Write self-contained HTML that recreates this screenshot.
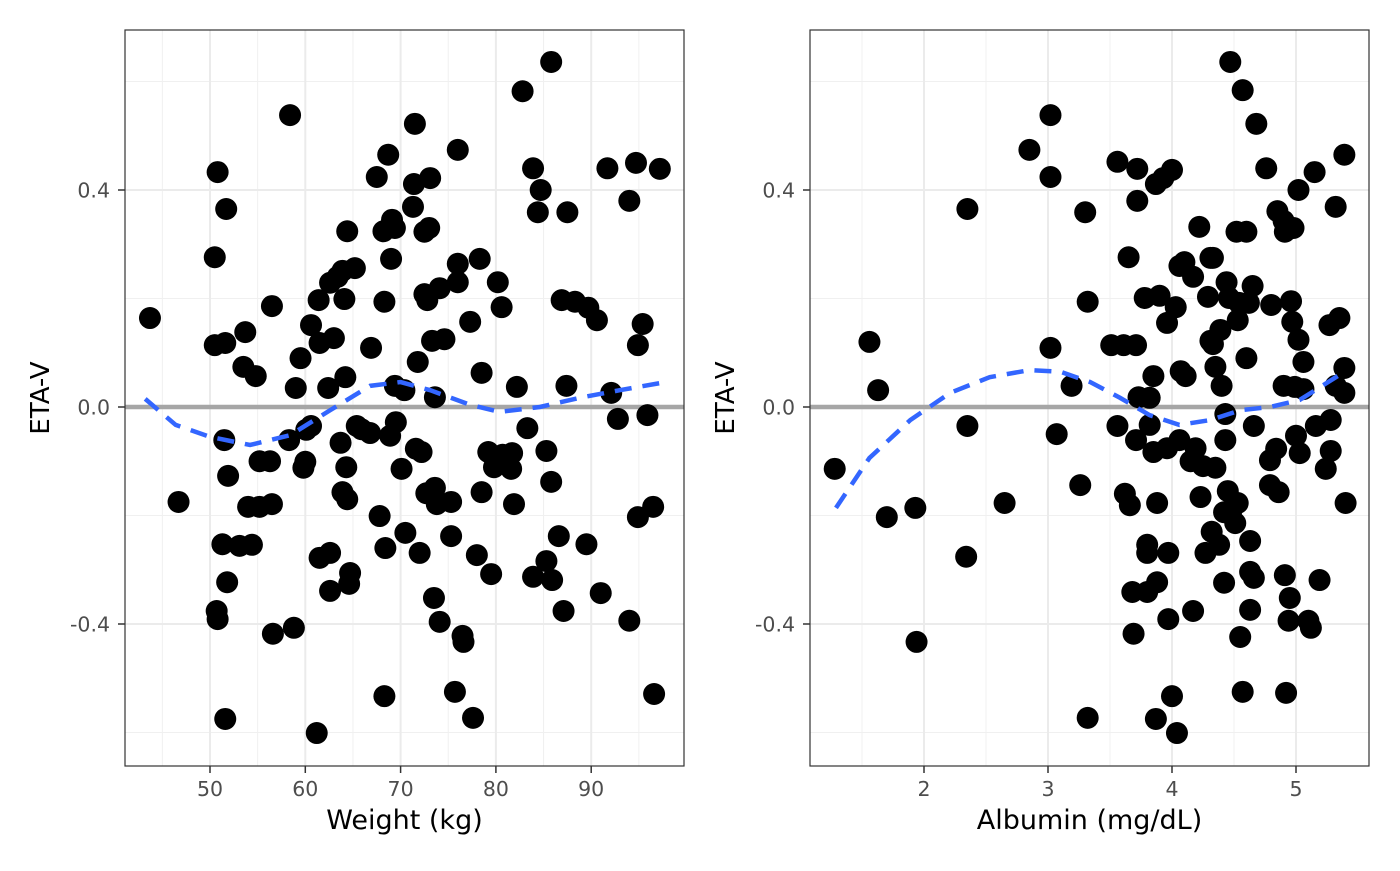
<!DOCTYPE html>
<html><head><meta charset="utf-8"><style>
body{margin:0;background:#fff}
svg text{font-family:"DejaVu Sans","Liberation Sans",sans-serif}
</style></head><body>
<svg id="c" width="1400" height="866" xmlns="http://www.w3.org/2000/svg"></svg>
<script>
const wtX=[43.7,46.7,50.8,50.5,51.7,50.5,51.6,51.5,51.9,51.3,51.8,50.7,50.8,51.6,53.7,53.5,53.1,54.0,54.4,54.8,55.2,55.2,56.5,56.3,56.5,56.6,58.4,59.0,58.3,58.8,59.5,60.0,59.8,60.6,60.6,60.1,61.4,61.5,61.5,61.2,62.6,62.6,62.6,62.4,63.0,63.4,63.9,64.1,64.2,63.7,63.9,64.4,64.4,64.3,64.7,64.6,65.2,65.4,65.9,66.8,66.9,67.5,67.8,68.2,68.3,68.4,68.3,68.7,68.9,69.0,69.1,69.4,69.4,69.5,70.1,70.4,70.5,71.5,71.4,71.3,71.8,71.6,72.0,72.2,72.5,72.5,72.8,73.0,73.1,72.7,73.3,73.6,73.6,73.8,73.5,74.1,74.1,74.6,75.3,75.3,75.7,76.0,76.0,76.0,76.5,76.6,77.3,77.6,78.0,78.3,78.5,78.5,79.2,79.5,79.8,80.2,80.6,80.7,81.7,81.6,81.9,82.2,82.8,83.3,83.9,83.9,84.4,84.7,85.3,85.3,85.8,85.8,85.9,86.6,86.9,87.1,87.4,87.5,88.3,89.5,89.7,90.6,91.0,91.7,92.1,92.8,94.0,94.0,94.7,94.9,94.9,95.4,95.9,96.5,96.6,97.2];
const wtEta=[0.164,-0.175,0.433,0.276,0.365,0.114,0.118,-0.061,-0.127,-0.253,-0.323,-0.376,-0.391,-0.575,0.138,0.074,-0.256,-0.184,-0.254,0.057,-0.100,-0.184,0.186,-0.100,-0.179,-0.418,0.538,0.035,-0.061,-0.407,0.090,-0.101,-0.112,0.151,-0.035,-0.042,0.197,0.118,-0.278,-0.601,0.229,-0.269,-0.339,0.035,0.127,0.240,0.251,0.199,0.055,-0.066,-0.157,-0.170,0.324,-0.111,-0.306,-0.326,0.256,-0.035,-0.041,-0.048,0.109,0.424,-0.201,0.324,0.194,-0.260,-0.533,0.465,-0.053,0.273,0.345,0.330,0.039,-0.028,-0.114,0.031,-0.232,0.522,0.411,0.369,0.083,-0.077,-0.269,-0.083,0.208,0.323,0.197,0.330,0.422,-0.159,0.122,-0.149,0.018,-0.179,-0.352,-0.396,0.219,0.125,-0.175,-0.238,-0.525,0.474,0.264,0.230,-0.422,-0.433,0.157,-0.573,-0.273,0.273,0.063,-0.157,-0.083,-0.308,-0.111,0.230,0.184,-0.088,-0.085,-0.114,-0.179,0.037,0.582,-0.039,0.440,-0.313,0.359,0.400,-0.081,-0.284,0.636,-0.138,-0.319,-0.238,0.197,-0.376,0.039,0.359,0.194,-0.253,0.183,0.160,-0.343,0.440,0.026,-0.022,0.380,-0.394,0.450,0.114,-0.203,0.153,-0.015,-0.184,-0.529,0.439];
const albX=[1.28,1.56,1.63,1.70,1.93,1.94,2.35,2.34,2.35,2.65,2.85,3.02,3.02,3.02,3.07,3.19,3.26,3.30,3.32,3.32,3.51,3.56,3.56,3.61,3.62,3.65,3.66,3.68,3.69,3.71,3.72,3.72,3.71,3.73,3.78,3.80,3.80,3.80,3.82,3.82,3.85,3.85,3.87,3.88,3.88,3.87,3.90,3.93,3.96,3.97,3.97,3.96,4.00,4.00,4.03,4.04,4.06,4.06,4.07,4.10,4.11,4.15,4.17,4.17,4.19,4.22,4.23,4.25,4.27,4.29,4.31,4.31,4.32,4.33,4.33,4.35,4.35,4.38,4.39,4.40,4.42,4.42,4.43,4.43,4.44,4.46,4.45,4.47,4.48,4.51,4.52,4.53,4.54,4.55,4.53,4.57,4.60,4.60,4.62,4.63,4.63,4.63,4.65,4.66,4.66,4.68,4.57,4.76,4.79,4.79,4.80,4.84,4.85,4.86,4.90,4.90,4.91,4.91,4.92,4.94,4.95,4.96,4.97,4.98,4.99,5.00,5.02,5.02,5.03,5.06,5.06,5.10,5.12,5.15,5.16,5.19,5.24,5.27,5.28,5.28,5.32,5.32,5.35,5.39,5.39,5.39,5.40];
const albEta=[-0.114,0.120,0.031,-0.203,-0.186,-0.433,0.365,-0.276,-0.035,-0.177,0.474,0.538,0.424,0.109,-0.050,0.039,-0.144,0.359,0.194,-0.573,0.114,0.452,-0.035,0.114,-0.160,0.276,-0.181,-0.341,-0.418,0.114,0.439,0.380,-0.061,0.018,0.201,-0.254,-0.269,-0.341,0.017,-0.033,0.057,-0.083,0.411,-0.177,-0.323,-0.575,0.205,0.422,0.155,-0.269,-0.391,-0.076,0.437,-0.533,0.184,-0.601,-0.061,0.260,0.066,0.267,0.057,-0.100,-0.376,0.240,-0.076,0.332,-0.166,-0.109,-0.269,0.203,0.275,0.122,-0.230,0.275,0.116,-0.112,0.074,-0.254,0.142,0.039,-0.194,-0.324,-0.061,-0.013,0.230,0.201,-0.155,0.636,-0.190,-0.214,0.323,-0.177,0.192,-0.424,0.160,0.584,0.090,0.323,0.192,-0.247,-0.304,-0.374,0.223,-0.035,-0.315,0.522,-0.525,0.440,-0.144,-0.098,0.188,-0.077,0.361,-0.157,0.039,0.343,0.323,-0.310,-0.527,-0.394,-0.352,0.195,0.157,0.330,0.037,-0.053,0.400,0.124,-0.085,0.083,0.033,-0.394,-0.407,0.433,-0.035,-0.319,-0.114,0.151,-0.024,-0.081,0.369,0.039,0.164,0.465,0.072,0.026,-0.177];
const fitWtX=[43.2,46.4,50,54.2,58.4,62.6,66.8,70,73.1,77.3,80.4,84.6,88.8,93,97.2];
const fitWtY=[0.015,-0.033,-0.055,-0.070,-0.052,-0.006,0.039,0.046,0.031,0.004,-0.009,0,0.017,0.031,0.044];
const fitAlbX=[1.29,1.56,1.89,2.21,2.53,2.85,3.10,3.34,3.58,3.82,4.06,4.31,4.55,4.79,5.03,5.35];
const fitAlbY=[-0.186,-0.094,-0.024,0.026,0.055,0.068,0.065,0.046,0.017,-0.015,-0.033,-0.024,-0.006,0,0.013,0.059];
const wtTicks=[50,60,70,80,90], wtMinor=[45,55,65,75,85,95];
const albTicks=[2,3,4,5], albMinor=[1.5,2.5,3.5,4.5];
const yTicks=[-0.4,0,0.4], yTickLabels=["-0.4","0.0","0.4"], yMinor=[-0.6,-0.2,0.2,0.6];

const svg=document.getElementById('c');const NS='http://www.w3.org/2000/svg';
function mk(t,a,p){const e=document.createElementNS(NS,t);for(const k in a)e.setAttribute(k,a[k]);(p||svg).appendChild(e);return e;}
const T=30,B=766;
const yS=v=>407-v*542.5;
function panel(name,L,R,xS,ticks,minor,xs,ys,fx,fy,title){
  const g=mk('g',{});
  
  
  mk('rect',{x:L,y:T,width:R-L,height:B-T,fill:'#fff'},g);
  minor.forEach(v=>{const l=mk('line',{x1:xS(v),x2:xS(v),y1:T,y2:B,stroke:'#f0f0f0','stroke-width':1},g);});
  yMinor.forEach(v=>{const l=mk('line',{x1:L,x2:R,y1:yS(v),y2:yS(v),stroke:'#f0f0f0','stroke-width':1},g);});
  ticks.forEach(v=>{const l=mk('line',{x1:xS(v),x2:xS(v),y1:T,y2:B,stroke:'#ebebeb','stroke-width':2},g);});
  yTicks.forEach(v=>{const l=mk('line',{x1:L,x2:R,y1:yS(v),y2:yS(v),stroke:'#ebebeb','stroke-width':2},g);});
  const z=mk('line',{x1:L,x2:R,y1:yS(0),y2:yS(0),stroke:'#a6a6a6','stroke-width':4.5},g);
  
  xs.forEach((v,i)=>{const c=mk('circle',{cx:xS(v),cy:yS(ys[i]),r:11,fill:'#000'},g);});
  const p=mk('polyline',{points:fx.map((v,i)=>xS(v)+','+yS(fy[i])).join(' '),fill:'none',stroke:'#3366FF','stroke-width':4.5,'stroke-dasharray':'17,11'},g);
  
  mk('rect',{x:L,y:T,width:R-L,height:B-T,fill:'none',stroke:'#333','stroke-width':1.2},g);
  ticks.forEach(v=>{mk('line',{x1:xS(v),x2:xS(v),y1:B,y2:B+7,stroke:'#333','stroke-width':1.5},g);
    const t=mk('text',{x:xS(v),y:796,'text-anchor':'middle','font-size':20.5,fill:'#4d4d4d'},g);t.textContent=String(v);});
  yTicks.forEach((v,i)=>{mk('line',{x1:L-7,x2:L,y1:yS(v),y2:yS(v),stroke:'#333','stroke-width':1.5},g);
    const t=mk('text',{x:L-15,y:yS(v)+7.5,'text-anchor':'end','font-size':20.5,fill:'#4d4d4d'},g);t.textContent=yTickLabels[i];});
  const xt=mk('text',{x:(L+R)/2,y:829,'text-anchor':'middle','font-size':27,fill:'#000'},g);xt.textContent=title;
  
  const cx=L-76,cy=(T+B)/2;
  const yt=mk('text',{x:cx,y:cy,'text-anchor':'middle','font-size':26,fill:'#000',transform:`rotate(-90 ${cx} ${cy})`},g);yt.textContent='ETA-V';
  
}
panel('weight',125,684,v=>210+(v-50)*9.53,wtTicks,wtMinor,wtX,wtEta,fitWtX,fitWtY,'Weight (kg)');
panel('albumin',810,1369,v=>924+(v-2)*124,albTicks,albMinor,albX,albEta,fitAlbX,fitAlbY,'Albumin (mg/dL)');
</script>
</body></html>
